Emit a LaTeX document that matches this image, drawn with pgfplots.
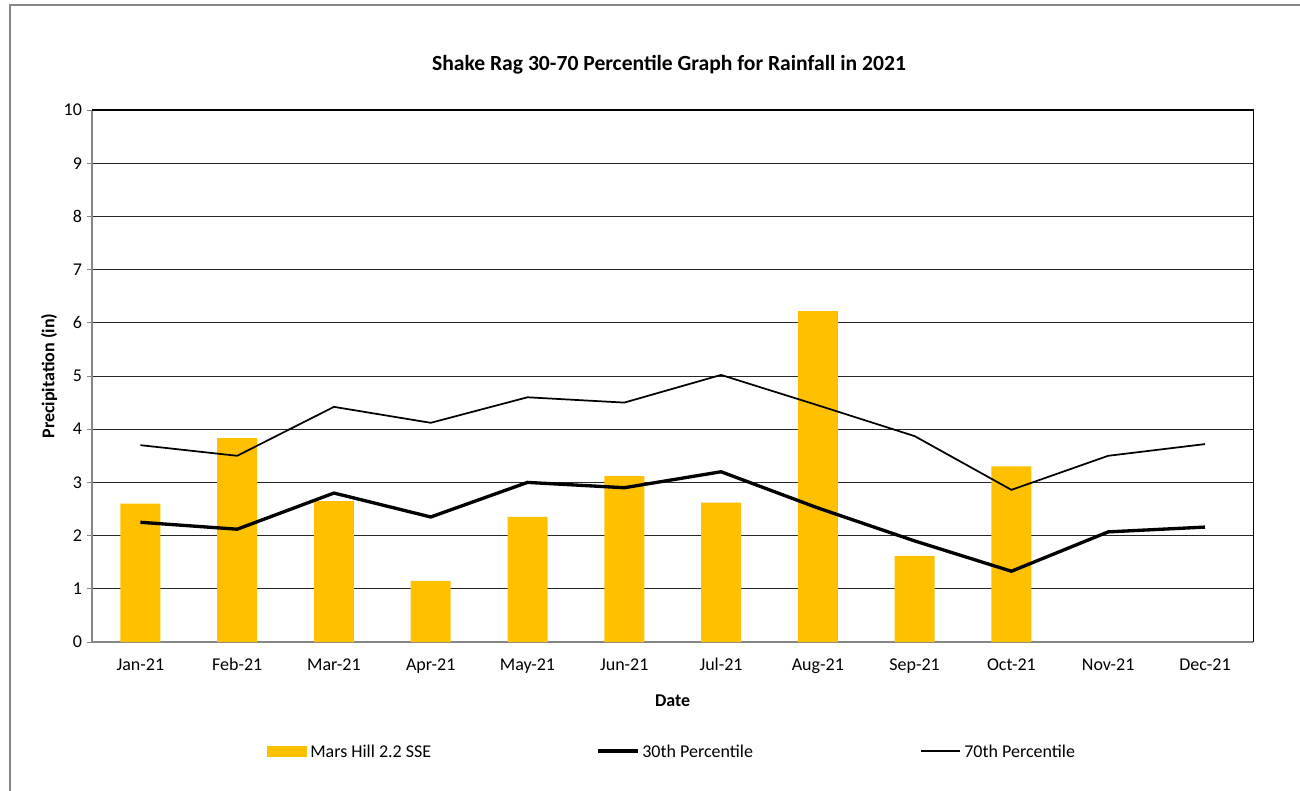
\documentclass[border=0pt]{standalone}
\usepackage{pgfplots}
\pgfplotsset{compat=1.18}
\usepackage{fontspec}
\setmainfont{Carlito}
\definecolor{baryel}{RGB}{255,192,0}
\definecolor{axgray}{RGB}{134,134,134}
\newcommand{\lblfont}{\fontsize{13.5}{16}\selectfont}
\begin{document}
\begin{tikzpicture}[x=0.75pt,y=0.75pt]
\path[use as bounding box] (0,0) rectangle (1300,-791);
\draw[color=axgray,line width=0.9pt] (10,-791) -- (10,-5) -- (1300,-5);
\node[font=\bfseries\fontsize{16.2}{19}\selectfont] at (669,-65) {Shake Rag 30-70 Percentile Graph for Rainfall in 2021};
\begin{axis}[
  at={(69pt,-481.5pt)}, anchor=south west,
  scale only axis, width=871pt, height=399pt,
  xmin=-0.5, xmax=11.5, ymin=0, ymax=10,
  ytick={0,1,...,10},
  xtick={0,...,11},
  xticklabels={Jan-21,Feb-21,Mar-21,Apr-21,May-21,Jun-21,Jul-21,Aug-21,Sep-21,Oct-21,Nov-21,Dec-21},
  extra x ticks={-0.5,0.5,...,11.5}, extra x tick labels={},
  extra x tick style={major tick length=5pt, tick style={axgray, line width=0.6pt}, grid=none, tick pos=bottom},
  major x tick style={draw=none},
  x tick label style={font=\lblfont, text height=1.6ex, text depth=0.3ex},
  y tick label style={font=\lblfont},
  /pgf/number format/assume math mode=true,
  ymajorgrids, grid style={black!85, line width=0.6pt},
  ytick style={axgray, line width=0.6pt},
  tick align=outside, major tick length=4pt,
  ytick pos=left,
  axis line style={black, line width=0.8pt},
  separate axis lines,
  x axis line style={axgray, line width=1.2pt},
  y axis line style={axgray, line width=1pt},
  xlabel={\bfseries Date}, ylabel={\bfseries Precipitation (in)},
  xlabel style={font=\lblfont, yshift=-1pt},
  ylabel style={font=\lblfont, yshift=-2pt},
  xticklabel style={yshift=-6pt},
  clip=false,
]
\addplot[ybar, bar width=30pt, fill=baryel, draw=none, bar shift=0pt] coordinates {
(0,2.6) (1,3.83) (2,2.65) (3,1.15) (4,2.35) (5,3.12) (6,2.62) (7,6.22) (8,1.62) (9,3.3)};
\addplot[black, line width=2.5pt, mark=none] coordinates {
(0,2.25) (1,2.12) (2,2.8) (3,2.35) (4,3.0) (5,2.9) (6,3.2) (7,2.52) (8,1.9) (9,1.33) (10,2.07) (11,2.16)};
\addplot[black, line width=1.3pt, mark=none] coordinates {
(0,3.7) (1,3.5) (2,4.42) (3,4.12) (4,4.6) (5,4.5) (6,5.02) (7,4.45) (8,3.87) (9,2.86) (10,3.5) (11,3.72)};
\draw[black, line width=0.8pt] (rel axis cs:0,1) -- (rel axis cs:1,1) -- (rel axis cs:1,0);
\end{axis}
\fill[baryel] (267,-746) rectangle (307,-757);
\node[anchor=west, font=\lblfont, inner sep=0pt] at (310,-751) {Mars Hill 2.2 SSE};
\draw[black, line width=2.5pt] (598,-751) -- (638,-751);
\node[anchor=west, font=\lblfont, inner sep=0pt] at (642,-751) {30th Percentile};
\draw[black, line width=1.3pt] (921,-751) -- (960,-751);
\node[anchor=west, font=\lblfont, inner sep=0pt] at (964,-751) {70th Percentile};
\end{tikzpicture}
\end{document}
